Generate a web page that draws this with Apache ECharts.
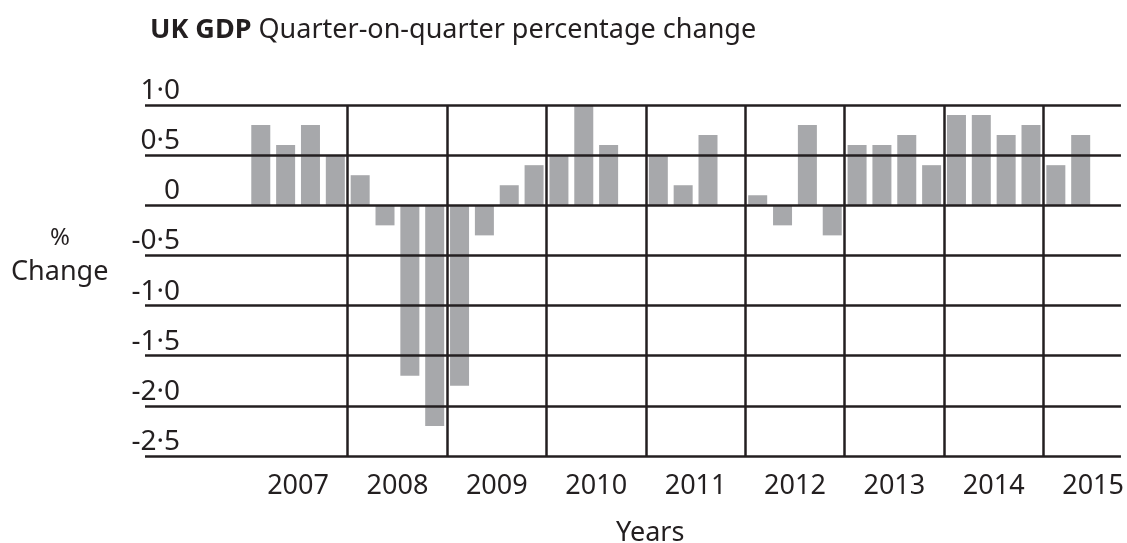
<!DOCTYPE html>
<html lang="en" style="height: 100%">

<head>
  <meta charset="utf-8">
</head>

<body style="height: 100%; margin: 0; background: #fff">
  <div id="container" style="height: 100%"></div>
  <script type="text/javascript" src="https://cdn.jsdelivr.net/npm/echarts@6/dist/echarts.min.js"></script>
  <script type="text/javascript">
    // quarterly GDP change, 2007 Q1 .. 2015 Q2 (null = no bar drawn)
    const q2007 = [0.8, 0.6, 0.8, 0.5]
    const q2008 = [0.3, -0.2, -1.7, -2.2]
    const q2009 = [-1.8, -0.3, 0.2, 0.4]
    const q2010 = [0.5, 1.0, 0.6, null]
    const q2011 = [0.5, 0.2, 0.7, null]
    const q2012 = [0.1, -0.2, 0.8, -0.3]
    const q2013 = [0.6, 0.6, 0.7, 0.4]
    const q2014 = [0.9, 0.9, 0.7, 0.8]
    const q2015 = [0.4, 0.7]

    const years = ['2007', '2008', '2009', '2010', '2011', '2012', '2013', '2014', '2015']

    const quarters = [].concat(q2007, q2008, q2009, q2010, q2011, q2012, q2013, q2014, q2015)

    // x is measured in quarters; a year spans 4 units
    const yearCenters = years.map((y, i) => i * 4 + 2)
    const yearBounds = years.slice(1).map((y, i) => (i + 1) * 4)

    const ink = '#231f20'
    const font = 'Noto Sans'

    var dom = document.getElementById('container');
    var myChart = echarts.init(dom, null, { renderer: 'canvas' });

    var option = {
      animation: false,
      title: {
        text: '{b|UK GDP} Quarter-on-quarter percentage change',
        left: 145,
        top: 12,
        textStyle: {
          fontFamily: font,
          fontSize: 27,
          fontWeight: 'normal',
          color: ink,
          rich: {
            b: { fontFamily: font, fontSize: 27, fontWeight: 'bold', color: ink }
          }
        }
      },
      graphic: [
        {
          type: 'text', left: 50, top: 226,
          style: { text: '%', font: '24px "Noto Sans"', fill: ink }
        },
        {
          type: 'text', left: 11, top: 259,
          style: { text: 'Change', font: '27px "Noto Sans"', fill: ink }
        },
        {
          type: 'text', left: 616, top: 520,
          style: { text: 'Years', font: '27px "Noto Sans"', fill: ink }
        }
      ],
      grid: {
        left: 145,
        right: 0,
        top: 105,
        bottom: 87
      },
      xAxis: {
        type: 'value',
        min: -4.16,
        max: 35.12,
        axisLine: { show: false },
        axisTick: { show: false },
        splitLine: { show: false },
        axisLabel: {
          customValues: yearCenters,
          formatter: v => years[yearCenters.indexOf(v)] || '',
          margin: 17,
          fontFamily: font,
          fontSize: 27,
          color: ink
        }
      },
      yAxis: {
        type: 'value',
        min: -2.5,
        max: 1,
        interval: 0.5,
        z: 5,
        axisLine: { show: false },
        axisTick: { show: false },
        splitLine: { lineStyle: { color: ink, width: 2.5 } },
        axisLabel: {
          margin: -35,
          verticalAlign: 'bottom',
          fontFamily: font,
          fontSize: 28,
          color: ink,
          formatter: v => v === 0 ? '0' : v.toFixed(1).replace('.', '\u00b7')
        }
      },
      series: [
        {
          type: 'bar',
          barWidth: 19,
          itemStyle: { color: '#a7a8ab' },
          data: quarters.map((v, i) => [i + 0.5, v]),
          markLine: {
            silent: true,
            symbol: 'none',
            label: { show: false },
            lineStyle: { color: ink, width: 2.5, type: 'solid' },
            data: yearBounds.map(b => ({ xAxis: b }))
          }
        }
      ]
    };

    myChart.setOption(option);
    window.addEventListener('resize', myChart.resize);
  </script>
</body>

</html>
